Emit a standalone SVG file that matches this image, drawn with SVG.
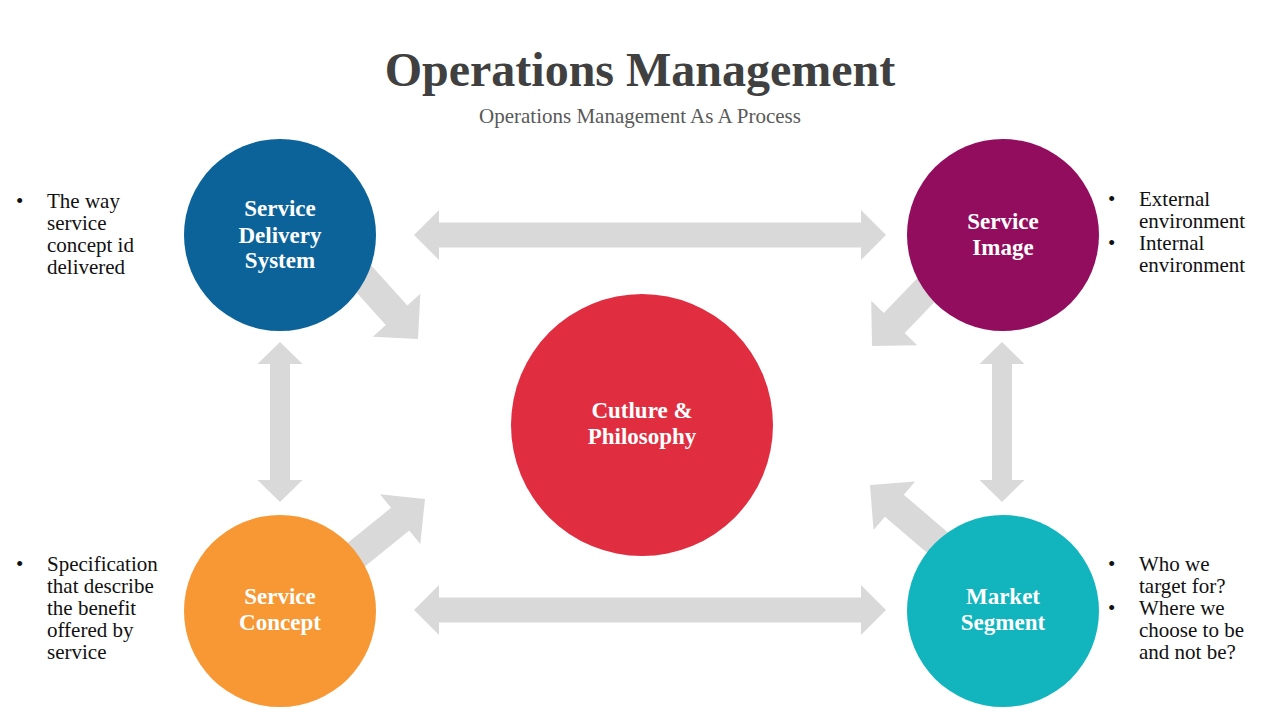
<svg xmlns="http://www.w3.org/2000/svg" xmlns:xlink="http://www.w3.org/1999/xlink" width="1280" height="720" viewBox="0 0 1280 720">
<style>
.title{font-family:"Liberation Serif",serif;font-weight:bold;font-size:48px;fill:#404040}
.sub{font-family:"Liberation Serif",serif;font-size:21px;fill:#595959}
.lbl{font-family:"Liberation Serif",serif;font-weight:bold;font-size:23px;fill:#ffffff}
.txt{font-family:"Liberation Serif",serif;font-size:21px;fill:#111111}
.arr{fill:#d9d9d9}
</style>
<defs>
<polygon id="diag" points="0,0 -32,-32 -32,-14.5 -115,-14.5 -115,14.5 -32,14.5 -32,32"/>
</defs>
<rect width="1280" height="720" fill="#ffffff"/>
<text class="title" x="640" y="86" text-anchor="middle">Operations Management</text>
<text class="sub" x="640" y="123" text-anchor="middle">Operations Management As A Process</text>

<g id="connectors" class="arr">
<polygon points="414,235 439,210 439,222.5 861,222.5 861,210 886,235 861,260 861,247.5 439,247.5 439,260"/>
<polygon points="414,610 439,585 439,597.5 861,597.5 861,585 886,610 861,635 861,622.5 439,622.5 439,635"/>
<polygon points="280,342 302.5,364 290,364 290,480 302.5,480 280,502 257.5,480 270,480 270,364 257.5,364"/>
<polygon points="1002,342 1024.5,364 1012,364 1012,480 1024.5,480 1002,502 979.5,480 992,480 992,364 979.5,364"/>
<use xlink:href="#diag" transform="translate(418,339) rotate(48)"/>
<use xlink:href="#diag" transform="translate(872,346) rotate(134)"/>
<use xlink:href="#diag" transform="translate(425,499) rotate(-39)"/>
<use xlink:href="#diag" transform="translate(870,485) rotate(-139.5)"/>
</g>

<g id="service-delivery-system">
<circle cx="280" cy="235" r="96" fill="#0b6399"/>
<text class="lbl" text-anchor="middle"><tspan x="280" y="216">Service</tspan><tspan x="280" y="243">Delivery</tspan><tspan x="280" y="268">System</tspan></text>
</g>
<g id="service-image">
<circle cx="1003" cy="235" r="96" fill="#930d5e"/>
<text class="lbl" text-anchor="middle"><tspan x="1003" y="229">Service</tspan><tspan x="1003" y="255">Image</tspan></text>
</g>
<g id="culture-philosophy">
<circle cx="642" cy="425" r="131" fill="#e12d40"/>
<text class="lbl" text-anchor="middle"><tspan x="642" y="418">Cutlure &amp;</tspan><tspan x="642" y="444">Philosophy</tspan></text>
</g>
<g id="service-concept">
<circle cx="280" cy="611" r="96" fill="#f79834"/>
<text class="lbl" text-anchor="middle"><tspan x="280" y="604">Service</tspan><tspan x="280" y="630">Concept</tspan></text>
</g>
<g id="market-segment">
<circle cx="1003" cy="611" r="96" fill="#12b5be"/>
<text class="lbl" text-anchor="middle"><tspan x="1003" y="604">Market</tspan><tspan x="1003" y="630">Segment</tspan></text>
</g>

<g id="note-delivery" class="txt">
<text x="16" y="208">•</text>
<text><tspan x="47" y="208">The way</tspan><tspan x="47" y="230">service</tspan><tspan x="47" y="252">concept id</tspan><tspan x="47" y="274">delivered</tspan></text>
</g>
<g id="note-image" class="txt">
<text x="1108" y="206">•</text>
<text x="1108" y="250">•</text>
<text><tspan x="1139" y="206">External</tspan><tspan x="1139" y="228">environment</tspan><tspan x="1139" y="250">Internal</tspan><tspan x="1139" y="272">environment</tspan></text>
</g>
<g id="note-concept" class="txt">
<text x="16" y="571">•</text>
<text><tspan x="47" y="571">Specification</tspan><tspan x="47" y="593">that describe</tspan><tspan x="47" y="615">the benefit</tspan><tspan x="47" y="637">offered by</tspan><tspan x="47" y="659">service</tspan></text>
</g>
<g id="note-market" class="txt">
<text x="1108" y="571">•</text>
<text x="1108" y="615">•</text>
<text><tspan x="1139" y="571">Who we</tspan><tspan x="1139" y="593">target for?</tspan><tspan x="1139" y="615">Where we</tspan><tspan x="1139" y="637">choose to be</tspan><tspan x="1139" y="659">and not be?</tspan></text>
</g>
</svg>
